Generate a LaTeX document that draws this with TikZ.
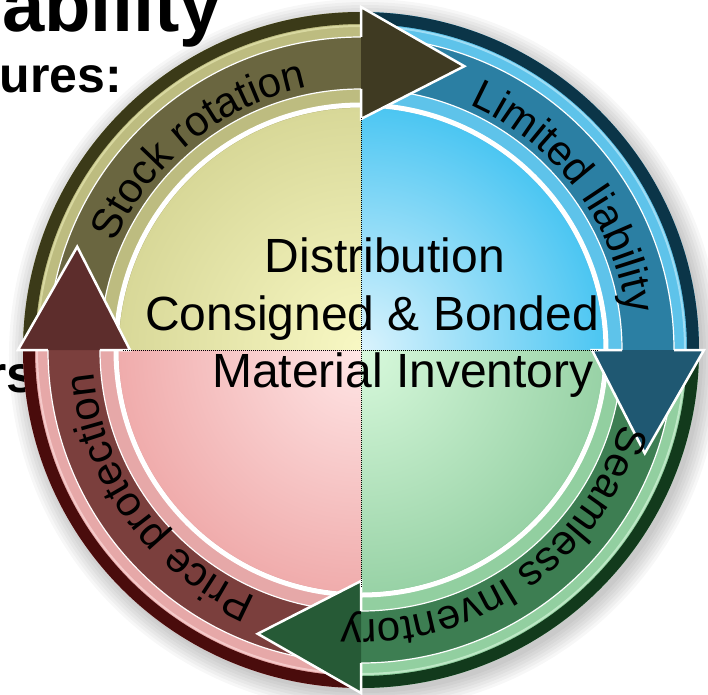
\documentclass[tikz,border=0pt]{standalone}
\usepackage{fontspec}
\setmainfont{Liberation Sans}
\usetikzlibrary{decorations.text}

% quadrant colours
\definecolor{yeldisc}{HTML}{F8F8C4}
\definecolor{yeledge}{HTML}{D8D898}
\definecolor{yeltrack}{HTML}{BDBC80}
\definecolor{yelrim}{HTML}{3B3A18}
\definecolor{yellight}{HTML}{D8D8A0}
\definecolor{yelshaft}{HTML}{6A6640}
\definecolor{yelhead}{HTML}{3F3A22}
\definecolor{bludisc}{HTML}{DAF3FD}
\definecolor{bluedge}{HTML}{4CC6F2}
\definecolor{blutrack}{HTML}{5EC3EA}
\definecolor{blurim}{HTML}{0B3548}
\definecolor{blulight}{HTML}{9EDDF5}
\definecolor{blushaft}{HTML}{2B7FA3}
\definecolor{bluhead}{HTML}{1F5872}
\definecolor{gredisc}{HTML}{D8F9DC}
\definecolor{greedge}{HTML}{98D2A6}
\definecolor{gretrack}{HTML}{92CFA0}
\definecolor{grerim}{HTML}{123A1C}
\definecolor{grelight}{HTML}{BEE8C6}
\definecolor{greshaft}{HTML}{3D7E52}
\definecolor{grehead}{HTML}{265A36}
\definecolor{reddisc}{HTML}{FFE6E6}
\definecolor{rededge}{HTML}{F0ACAC}
\definecolor{redtrack}{HTML}{E6A8A8}
\definecolor{redrim}{HTML}{4A0C0C}
\definecolor{redlight}{HTML}{F5CACA}
\definecolor{redshaft}{HTML}{7B3F3D}
\definecolor{redhead}{HTML}{5D2D2C}

\newcommand{\labelfont}{\fontsize{42}{42}\selectfont}

\begin{document}
\begin{tikzpicture}[
    x=1pt, y=1pt,
    centertext/.style={font=\fontsize{48}{48}\selectfont, inner sep=0pt, anchor=base},
    slidetext/.style={font=\bfseries\fontsize{52}{52}\selectfont, inner sep=0pt, anchor=base east},
    shaftline/.style={draw=white, line width=1.2pt},
    headline/.style={draw=white, line width=2.5pt, line join=miter},
    arclabel/.style={decorate, decoration={text along path, text align=center}}
]
\useasboundingbox (-361,-344) rectangle (347,350);
\clip (-361,-344) rectangle (347,350);
\fill[white] (-361,-344) rectangle (347,350);

% slide text behind the cycle
\node[slidetext, font=\bfseries\fontsize{76}{76}\selectfont] (titlepart) at (-139,318) {liability};
\node[slidetext, font=\bfseries\fontsize{50}{50}\selectfont] (subpart) at (-239,258) {ures:};
\node[slidetext] (sidepart) at (-325,-42) {rs};

% shadow
\foreach \r in {338,341,...,356}
  \fill[black, opacity=0.03] (4,-5) circle (\r);

% tracks and discs
\foreach \a/\q in {180/yel,90/blu,0/gre,-90/red}{
  \pgfmathsetmacro{\b}{\a-90}
  \fill[\q track] (\a:241) arc[start angle=\a, end angle=\b, radius=241]
    -- (\b:338) arc[start angle=\b, end angle=\a, radius=338] -- cycle;
  \fill[\q rim] (\a:326) arc[start angle=\a, end angle=\b, radius=326]
    -- (\b:338) arc[start angle=\b, end angle=\a, radius=338] -- cycle;
  \draw[\q light, line width=2pt] (\a:324) arc[start angle=\a, end angle=\b, radius=324];
  \draw[white, line width=5pt] (\a:245) arc[start angle=\a, end angle=\b, radius=245];
  \begin{scope}
    \clip (0,0) -- (\a:242) arc[start angle=\a, end angle=\b, radius=242] -- cycle;
    \shade[inner color=\q disc, outer color=\q edge] (0,0) circle (242);
  \end{scope}
}

% arrow shafts
\foreach \a/\q in {180/yel,90/blu,0/gre,-90/red}{
  \pgfmathsetmacro{\b}{\a-90}
  \pgfmathsetmacro{\t}{\a-4}
  \fill[\q shaft] (\t:261) arc[start angle=\t, end angle=\b, radius=261]
    -- (\b:313) arc[start angle=\b, end angle=\t, radius=313] -- cycle;
  \draw[shaftline] (\t:261) arc[start angle=\t, end angle=\b, radius=261];
  \draw[shaftline] (\t:313) arc[start angle=\t, end angle=\b, radius=313];
}

% arrow heads
\foreach \a/\q in {180/yel,90/blu,0/gre,-90/red}{
  \pgfmathsetmacro{\b}{\a-90}
  \pgfmathsetmacro{\e}{\a-110}
  \fill[\q head] (\b:231) -- (\e:302) -- (\b:343) -- cycle;
  \draw[headline] (\b:261) -- (\b:231) -- (\e:302) -- (\b:343) -- (\b:313);
}

% quadrant borders
\draw[line width=0.8pt, dash pattern=on 1pt off 1pt] (0,232) -- (0,-238);
\draw[line width=0.8pt, dash pattern=on 1pt off 1pt] (-238,0) -- (237,0);

% centre text
\node[centertext] (distline) at (24,78) {Distribution};
\node[centertext] (consline) at (11,20) {Consigned \& Bonded};
\node[centertext] (matline) at (42,-37) {Material Inventory};

% arc labels
\path[arclabel, decoration={text={|\labelfont|Stock rotation}}]
  (174:268) arc[start angle=174, end angle=84, radius=268];
\path[arclabel, decoration={text={|\labelfont|Limited liability}}]
  (82:268) arc[start angle=82, end angle=-8, radius=268];
\path[arclabel, decoration={text={|\labelfont|Seamless Inventory}}]
  (-10:270) arc[start angle=-10, end angle=-100, radius=270];
\path[arclabel, decoration={text={|\labelfont|Price protection}}]
  (-99:268) arc[start angle=-99, end angle=-189, radius=268];

\end{tikzpicture}
\end{document}
